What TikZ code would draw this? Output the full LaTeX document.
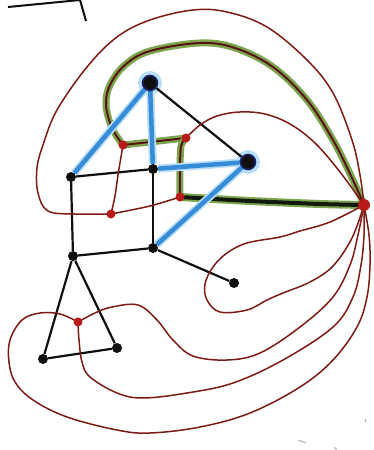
\documentclass[tikz,border=0pt]{standalone}
\pgfdeclarelayer{halo}
\pgfdeclarelayer{edges}
\pgfsetlayers{halo,edges,main}
\definecolor{bl}{RGB}{55,140,215}
\definecolor{blhalo}{RGB}{185,222,247}
\definecolor{navy}{RGB}{25,35,110}
\definecolor{gr}{RGB}{125,165,80}
\definecolor{dred}{RGB}{125,28,20}
\definecolor{rdot}{RGB}{185,25,25}
\definecolor{ink}{RGB}{15,15,15}
\tikzset{
  vtx/.style={circle,fill=ink,inner sep=0pt,minimum size=10pt},
  bigvtx/.style={circle,fill=ink,draw=navy,line width=1.6pt,inner sep=0pt,minimum size=15pt},
  dvtx/.style={circle,fill=rdot,inner sep=0pt,minimum size=9pt},
  bigdvtx/.style={circle,fill=rdot,inner sep=0pt,minimum size=12pt},
  blackedge/.style={draw=ink,line width=2.2pt},
  blueedge/.style={draw=bl,line width=4.5pt,preaction={draw=blhalo,line width=8pt}},
  redline/.style={draw=dred,line width=1.5pt,line join=round},
  greenline/.style={draw=dred!70!black,line width=2pt,line join=round,preaction={draw=gr,line width=7pt,line cap=round}},
  thickgreen/.style={draw=black!85!gr,line width=4pt,preaction={draw=gr,line width=8pt,line cap=round}},
  speck/.style={draw=black!30,line width=1pt}
}
\begin{document}
\begin{tikzpicture}[x=1pt,y=-1pt]
\useasboundingbox (0,0) rectangle (374,450);
% primal vertices
\node[bigvtx] (A) at (150,83) {};
\node[bigvtx] (B) at (248,162) {};
\node[vtx] (C) at (71,177) {};
\node[vtx] (D) at (153,169) {};
\node[vtx] (E) at (73,256) {};
\node[vtx] (F) at (153,248) {};
\node[vtx] (G) at (234,283) {};
\node[vtx] (H) at (43,359) {};
\node[vtx] (I) at (117,348) {};
% dual vertices
\node[dvtx] (r1) at (123,145) {};
\node[dvtx] (r2) at (186,138) {};
\node[dvtx] (r3) at (180,197) {};
\node[dvtx] (r4) at (111,214) {};
\node[bigdvtx] (r5) at (364,205) {};
\node[dvtx] (r6) at (78,322) {};
\begin{pgfonlayer}{halo}
  \fill[white] (0,0) rectangle (374,450);
  \fill[blhalo] (A) circle (12pt);
  \fill[blhalo] (B) circle (12pt);
\end{pgfonlayer}
\begin{pgfonlayer}{edges}
  % green dual cycle
  \draw[greenline] plot[smooth,tension=0.6] coordinates {(r1.center) (112,128) (106,105) (110,85) (125,65) (150,51) (200,43) (235,48) (273,67) (307,100) (333,140) (352,178) (r5.center)};
  \draw[greenline] (r1.center) -- (r2.center);
  \draw[greenline] plot[smooth,tension=0.5] coordinates {(r2.center) (181,146) (180,170) (r3.center)};
  \draw[thickgreen] plot[smooth,tension=0.4] coordinates {(r3.center) (250,201) (320,204) (r5.center)};
  % blue edges
  \draw[blueedge] (A.center) -- (C);
  \draw[blueedge] (A.center) -- (D);
  \draw[blueedge] (D) -- (B.center);
  \draw[blueedge] (B.center) -- (F);
  % black edges
  \draw[blackedge] (A) -- (B);
  \draw[blackedge] (C) -- (D);
  \draw[blackedge] (C) -- (E);
  \draw[blackedge] (D) -- (F);
  \draw[blackedge] (E) -- (F);
  \draw[blackedge] (F) -- (G);
  \draw[blackedge] (E) -- (H);
  \draw[blackedge] (E) -- (I);
  \draw[blackedge] (H) -- (I);
  % red dual edges
  \draw[redline] plot[smooth,tension=0.6] coordinates {(r4.center) (75,214) (48,211) (38,193) (37,168) (43,145) (57,110) (87,67) (117,37) (150,20) (193,10) (227,12) (267,27) (307,60) (333,93) (352,140) (360,175) (r5.center)};
  \draw[redline] plot[smooth,tension=0.6] coordinates {(r2.center) (200,125) (217,116) (240,112) (265,114) (290,124) (315,143) (340,172) (r5.center)};
  \draw[redline] plot[smooth,tension=0.5] coordinates {(r1.center) (118,175) (115,196) (r4.center)};
  \draw[redline] plot[smooth,tension=0.5] coordinates {(r4.center) (150,206) (r3.center)};
  \draw[redline] plot[smooth,tension=0.6] coordinates {(r5.center) (330,222) (300,231) (280,237) (247,243) (227,253) (213,267) (205,284) (207,300) (220,312) (247,310) (267,300) (283,293) (310,282) (333,266) (352,238) (r5.center)};
  \draw[redline] plot[smooth,tension=0.6] coordinates {(r6.center) (95,313) (112,307) (138,305) (157,320) (173,340) (193,356) (227,360) (260,353) (300,327) (333,297) (350,265) (358,235) (r5.center)};
  \draw[redline] plot[smooth,tension=0.6] coordinates {(r6.center) (79,340) (82,362) (90,377) (117,393) (143,398) (187,393) (233,383) (283,360) (333,327) (353,297) (361,265) (364,235) (r5.center)};
  \draw[redline] plot[smooth,tension=0.6] coordinates {(r6.center) (60,314) (40,313) (22,320) (10,340) (9,362) (15,382) (33,400) (67,417) (117,430) (150,433) (200,427) (250,413) (300,387) (333,360) (357,327) (367,297) (370,265) (369,235) (r5.center)};
\end{pgfonlayer}
% stray marks
\draw[ink,line width=2pt] (8,7) -- (80,0);
\draw[ink,line width=2pt] (80,0) -- (86,21);
\draw[speck] (298,440) -- (306,443);
\draw[speck] (334,447) -- (337,450);
\draw[speck] (365,419) -- (366,422);
\end{tikzpicture}
\end{document}
